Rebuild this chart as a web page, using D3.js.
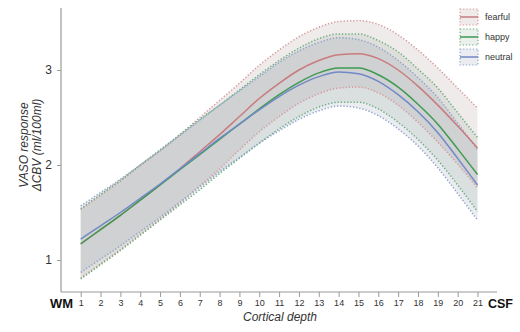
<!DOCTYPE html>
<html>
<head>
<meta charset="utf-8">
<script src="https://cdn.jsdelivr.net/npm/d3@7"></script>
<style>
  body { margin: 0; background: #fff; }
  svg { font-family: "Liberation Sans", Arial, sans-serif; }
</style>
</head>
<body>
<svg id="chart" width="520" height="332"></svg>
<script>
const depths = d3.range(1, 22);
const emotions = ["fearful", "happy", "neutral"];

// mean VASO response per cortical depth
const fearful = [1.17, 1.32, 1.47, 1.63, 1.79, 1.96, 2.14, 2.32, 2.51, 2.70, 2.86, 3.00, 3.10, 3.16, 3.17, 3.12, 3.00, 2.83, 2.63, 2.41, 2.18];
const happy   = [1.17, 1.32, 1.47, 1.63, 1.79, 1.95, 2.11, 2.27, 2.43, 2.59, 2.74, 2.87, 2.97, 3.02, 3.02, 2.95, 2.82, 2.64, 2.43, 2.17, 1.90];
const neutral = [1.22, 1.36, 1.50, 1.65, 1.80, 1.96, 2.12, 2.28, 2.43, 2.58, 2.72, 2.84, 2.93, 2.98, 2.96, 2.88, 2.74, 2.56, 2.34, 2.07, 1.79];

// spread (half width of the shaded band)
const fearfulSd = [0.36, 0.36, 0.36, 0.36, 0.36, 0.36, 0.36, 0.36, 0.35, 0.35, 0.35, 0.35, 0.35, 0.35, 0.35, 0.36, 0.37, 0.38, 0.39, 0.40, 0.42];
const happySd   = [0.37, 0.37, 0.37, 0.37, 0.37, 0.37, 0.37, 0.36, 0.36, 0.36, 0.36, 0.36, 0.36, 0.36, 0.36, 0.36, 0.37, 0.37, 0.38, 0.38, 0.39];
const neutralSd = [0.35, 0.35, 0.35, 0.35, 0.35, 0.35, 0.35, 0.35, 0.35, 0.35, 0.36, 0.36, 0.36, 0.36, 0.36, 0.36, 0.36, 0.36, 0.37, 0.37, 0.37];

const yTicks = [1, 2, 3];

const means = {fearful, happy, neutral};
const sds = {fearful: fearfulSd, happy: happySd, neutral: neutralSd};
const lineColor = {fearful: "#c97b7e", happy: "#3f9a52", neutral: "#7189c6"};
const fillColor = {fearful: "#a88686", happy: "#86a48c", neutral: "#8a8ca8"};
const edgeColor = {fearful: "#d69a9c", happy: "#6aae80", neutral: "#8fa3cc"};

const svg = d3.select("#chart");

const x = d3.scaleLinear().domain([1, 21]).range([80.7, 477.5]);
const y = d3.scaleLinear().domain([1, 3]).range([260, 70]);

const axisX0 = 61, axisY0 = 292;

// bands
emotions.forEach(e => {
    const rows = depths.map((d, i) => ({d, m: means[e][i], s: sds[e][i]}));
    const area = d3.area()
        .curve(d3.curveMonotoneX)
        .x(r => x(r.d))
        .y0(r => y(r.m - r.s))
        .y1(r => y(r.m + r.s));
    svg.append("path")
        .datum(rows)
        .attr("d", area)
        .attr("fill", fillColor[e])
        .attr("fill-opacity", 0.17);
});

emotions.forEach(e => {
    const rows = depths.map((d, i) => ({d, m: means[e][i], s: sds[e][i]}));
    ["up", "down"].forEach(side => {
        const line = d3.line()
            .curve(d3.curveMonotoneX)
            .x(r => x(r.d))
            .y(r => y(side === "up" ? r.m + r.s : r.m - r.s));
        svg.append("path")
            .datum(rows)
            .attr("d", line)
            .attr("fill", "none")
            .attr("stroke", edgeColor[e])
            .attr("stroke-width", 1.5)
            .attr("stroke-dasharray", "1.3,1.9");
    });
});

// mean lines
emotions.forEach(e => {
    const line = d3.line()
        .curve(d3.curveMonotoneX)
        .x((v, i) => x(depths[i]))
        .y(v => y(v));
    svg.append("path")
        .datum(means[e])
        .attr("d", line)
        .attr("fill", "none")
        .attr("stroke", lineColor[e])
        .attr("stroke-width", 1.5);
});

// axes
svg.append("line")
    .attr("x1", axisX0).attr("x2", axisX0)
    .attr("y1", 8).attr("y2", axisY0)
    .attr("stroke", "#9a9a9a").attr("stroke-width", 1.2);
svg.append("line")
    .attr("x1", axisX0).attr("x2", 497)
    .attr("y1", axisY0).attr("y2", axisY0)
    .attr("stroke", "#9a9a9a").attr("stroke-width", 1.2);

const yAxis = svg.append("g")
    .attr("transform", `translate(${axisX0},0)`)
    .call(d3.axisLeft(y).tickValues(yTicks).tickSize(4).tickPadding(5).tickFormat(d3.format("d")));
yAxis.select(".domain").remove();
yAxis.selectAll("line").attr("stroke", "#9a9a9a");
yAxis.selectAll("text").attr("font-size", 12).attr("fill", "#333").attr("font-family", "Liberation Sans, Arial, sans-serif");

const xAxis = svg.append("g")
    .attr("transform", `translate(0,${axisY0})`)
    .call(d3.axisBottom(x).tickValues(depths).tickSize(5).tickPadding(3).tickFormat(d3.format("d")));
xAxis.select(".domain").remove();
xAxis.selectAll("line").attr("stroke", "#9a9a9a");
xAxis.selectAll("text").attr("font-size", 9).attr("fill", "#333").attr("font-family", "Liberation Sans, Arial, sans-serif");

svg.append("text")
    .attr("x", 50).attr("y", 308)
    .attr("font-size", 13).attr("font-weight", "bold")
    .attr("textLength", 23).attr("lengthAdjust", "spacingAndGlyphs")
    .attr("fill", "#111")
    .text("WM");
svg.append("text")
    .attr("x", 488).attr("y", 308)
    .attr("font-size", 13).attr("font-weight", "bold")
    .attr("textLength", 25).attr("lengthAdjust", "spacingAndGlyphs")
    .attr("fill", "#111")
    .text("CSF");

svg.append("text")
    .attr("x", 280).attr("y", 321)
    .attr("text-anchor", "middle")
    .attr("font-size", 12).attr("font-style", "italic")
    .attr("fill", "#333")
    .text("Cortical depth");

const yt = svg.append("text")
    .attr("transform", "translate(0,145) rotate(-90)")
    .attr("text-anchor", "middle")
    .attr("font-size", 12).attr("font-style", "italic")
    .attr("fill", "#333");
yt.append("tspan").attr("x", 0).attr("y", 28).text("VASO response");
yt.append("tspan").attr("x", 0).attr("y", 41).text("ΔCBV (ml/100ml)");

// legend
const legend = svg.append("g").attr("transform", "translate(460,9)");
emotions.forEach((e, i) => {
    const g = legend.append("g").attr("transform", `translate(0,${i * 20})`);
    g.append("rect")
        .attr("width", 18).attr("height", 16)
        .attr("fill", fillColor[e]).attr("fill-opacity", 0.17)
        .attr("stroke", edgeColor[e]).attr("stroke-width", 1.2)
        .attr("stroke-dasharray", "1.3,1.9");
    g.append("line")
        .attr("x1", 0).attr("x2", 18)
        .attr("y1", 8).attr("y2", 8)
        .attr("stroke", lineColor[e]).attr("stroke-width", 1.5);
    g.append("text")
        .attr("x", 25).attr("y", 11)
        .attr("font-size", 9).attr("fill", "#333")
        .text(e);
});
</script>
</body>
</html>
